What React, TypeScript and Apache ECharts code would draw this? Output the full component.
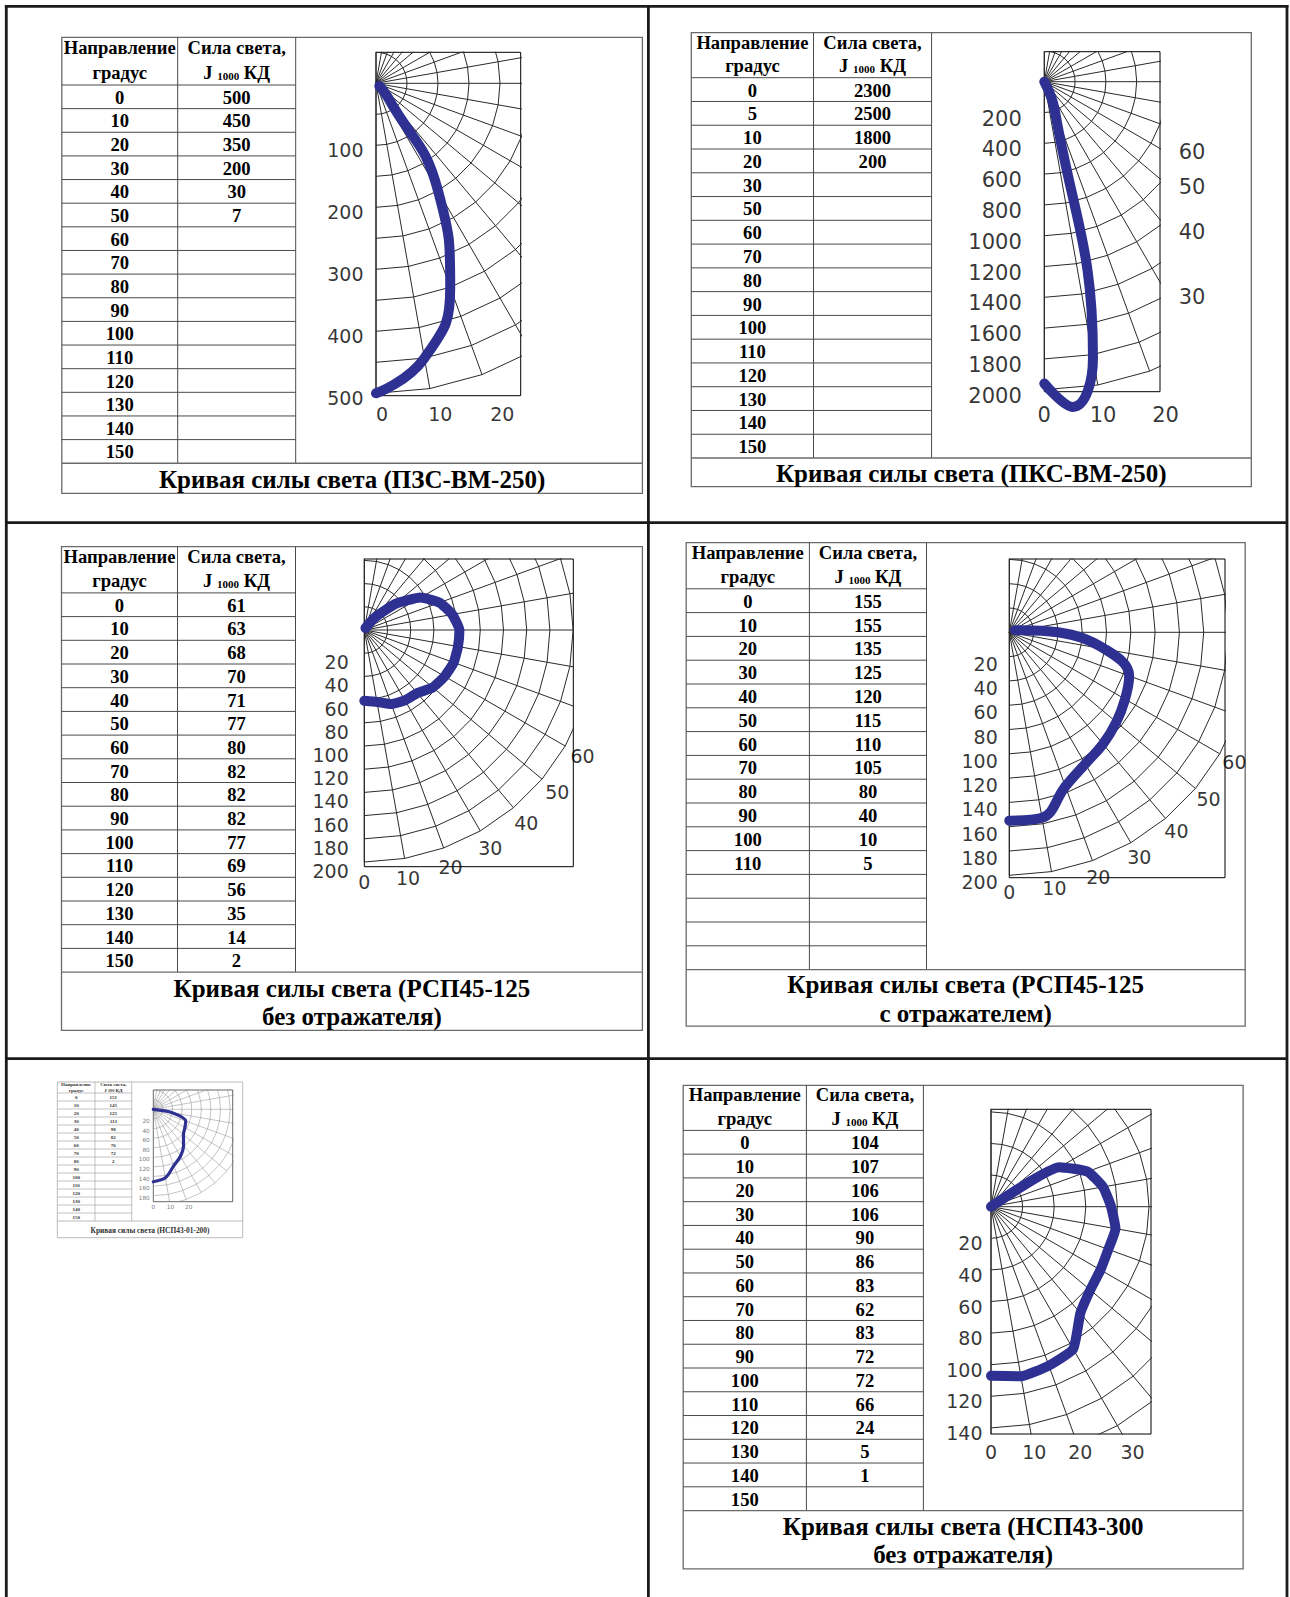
import React, { useEffect, useRef } from 'react';
import * as echarts from 'echarts';

// ================= DATA =================
const anglesStd = ['0', '10', '20', '30', '40', '50', '60', '70', '80', '90', '100', '110', '120', '130', '140', '150'];
const spokeAngles = [0, 10, 20, 30, 40, 50, 60, 70, 80, 90, 100, 110, 120, 130, 140, 150, 160, 170, 180];

// Panel 1 — ПЗС-ВМ-250
const p1Angles = anglesStd;
const p1Values = ['500', '450', '350', '200', '30', '7'];
const p1Curve = [[0, 500], [10, 450], [20, 350], [30, 200], [40, 30], [50, 7]];
const p1Rings = [50, 100, 150, 200, 250, 300, 350, 400, 450, 500];
const p1RadiusTicks = [100, 200, 300, 400, 500];
const p1AngleTicks = [0, 10, 20];
const p1Title = ['Кривая силы света (ПЗС-ВМ-250)'];

// Panel 2 — ПКС-ВМ-250
const p2Angles = ['0', '5', '10', '20', '30', '50', '60', '70', '80', '90', '100', '110', '120', '130', '140', '150'];
const p2Values = ['2300', '2500', '1800', '200'];
const p2Curve = [[0, 1960], [5, 2120], [10, 1820], [20, 200], [30, 0]];
const p2Rings = [200, 400, 600, 800, 1000, 1200, 1400, 1600, 1800, 2000];
const p2RadiusTicks = [200, 400, 600, 800, 1000, 1200, 1400, 1600, 1800, 2000];
const p2AngleTicks = [0, 10, 20, 30, 40, 50, 60];
const p2Title = ['Кривая силы света (ПКС-ВМ-250)'];

// Panel 3 — РСП45-125 без отражателя
const p3Angles = anglesStd;
const p3Values = ['61', '63', '68', '70', '71', '77', '80', '82', '82', '82', '77', '69', '56', '35', '14', '2'];
const p3Curve = [[0, 61], [10, 63], [20, 68], [30, 70], [40, 71], [50, 77], [60, 80], [70, 82], [80, 82], [90, 82], [100, 77], [110, 69], [120, 56], [130, 35], [140, 14], [150, 2]];
const p3Rings = [20, 40, 60, 80, 100, 120, 140, 160, 180, 200];
const p3RadiusTicks = [20, 40, 60, 80, 100, 120, 140, 160, 180, 200];
const p3AngleTicks = [0, 10, 20, 30, 40, 50, 60];
const p3Title = ['Кривая силы света (РСП45-125', 'без отражателя)'];

// Panel 4 — РСП45-125 с отражателем
const p4Angles = ['0', '10', '20', '30', '40', '50', '60', '70', '80', '90', '100', '110', '', '', '', ''];
const p4Values = ['155', '155', '135', '125', '120', '115', '110', '105', '80', '40', '10', '5'];
const p4Curve = [[0, 155], [10, 155], [20, 135], [30, 125], [40, 120], [50, 115], [60, 110], [70, 105], [80, 80], [90, 40], [100, 10], [110, 5]];
const p4Rings = [20, 40, 60, 80, 100, 120, 140, 160, 180, 200];
const p4RadiusTicks = [20, 40, 60, 80, 100, 120, 140, 160, 180, 200];
const p4AngleTicks = [0, 10, 20, 30, 40, 50, 60];
const p4Title = ['Кривая силы света (РСП45-125', 'с отражателем)'];

// Panel 5 — small thumbnail (НСП43-01-200)
const p5Angles = anglesStd;
const p5Values = ['151', '145', '125', '113', '98', '82', '76', '72', '2'];
const p5Curve = [[0, 151], [10, 145], [20, 125], [30, 113], [40, 98], [50, 82], [60, 76], [70, 72], [80, 40], [90, 0]];
const p5Rings = [20, 40, 60, 80, 100, 120, 140, 160, 180, 200];
const p5RadiusTicks = [20, 40, 60, 80, 100, 120, 140, 160, 180];
const p5AngleTicks = [0, 10, 20];
const p5Title = ['Кривая силы света (НСП43-01-200)'];

// Panel 6 — НСП43-300 без отражателя
const p6Angles = anglesStd;
const p6Values = ['104', '107', '106', '106', '90', '86', '83', '62', '83', '72', '72', '66', '24', '5', '1'];
const p6Curve = [[0, 107], [10, 109], [20, 107], [30, 104], [40, 88], [50, 82], [60, 80], [70, 79], [80, 80], [90, 76], [100, 72], [110, 65], [120, 50], [130, 0]];
const p6Rings = [20, 40, 60, 80, 100, 120, 140, 160, 180, 200];
const p6RadiusTicks = [20, 40, 60, 80, 100, 120, 140];
const p6AngleTicks = [0, 10, 20, 30];
const p6Title = ['Кривая силы света (НСП43-300', 'без отражателя)'];

// ================= STYLE / LAYOUT =================
const BLUE = '#2e3192';
const SERIF = '"Liberation Serif", "Times New Roman", serif';
const SANS = '"DejaVu Sans", Verdana, sans-serif';

const bigChart = { gridW: 1, gridColor: '#2a2a2a', borderW: 1, curveW: 10, tickColor: '#000', angleDx: 0, angleShiftR: 0, angleOff: 0, angleOffB: 0, angleOffR: 0 };

const L1 = { ...bigChart, rect: [376, 52.3, 144.7, 343.4], centerPx: 31, scale: 0.62, smooth: 0.5, tickFont: 19, tickGap: 12, tickDy: 5, angleMode: 'edge', angleOffB: 18, angleOffR: 40, angleDx: 6 };
const L2 = { ...bigChart, rect: [1044.3, 51.7, 115.7, 340], centerPx: 30, scale: 0.154, smooth: 0.45, tickFont: 21, tickGap: 22, tickDy: 6, angleMode: 'edge', angleOffB: 23, angleOffR: 32, angleShiftR: 4.5 };
const L3 = { ...bigChart, rect: [364.3, 559, 209, 307.7], centerPx: 71, scale: 1.16, smooth: 0.15, tickFont: 19, tickGap: 15, tickDy: 9, angleMode: 'ring', angleOff: 20 };
const L4 = { ...bigChart, rect: [1009.3, 559, 215.7, 318.7], centerPx: 73.3, scale: 1.215, smooth: 0.4, tickFont: 19, tickGap: 11, tickDy: 7, angleMode: 'ring', angleOff: 17 };
const L5 = { ...bigChart, rect: [153.3, 1090, 79.4, 111.7], centerPx: 19.3, scale: 0.48, gridW: 0.5, gridColor: '#8a8a8a', borderW: 0.6, curveW: 3.2, smooth: 0.3, tickFont: 5.8, tickGap: 3, tickDy: 2, tickColor: '#555', angleMode: 'edge', angleOffB: 5, angleOffR: 20 };
const L6 = { ...bigChart, rect: [991, 1109.3, 160, 324.7], centerPx: 97.4, scale: 1.58, smooth: 0.15, tickFont: 19, tickGap: 8, tickDy: 5, angleMode: 'edge', angleOffB: 18, angleOffR: 60 };

const bigTable = { font: 18.6, titleFont: 25, titleLH: 28.4, line: '#4a4a4a', lineW: 1, box: '#6a6a6a', boxW: 1.3, color: '#000', subFont: 11, subPad: 7 };
const T1 = { ...bigTable, x: [61.8, 177.7, 295.7, 642.4], top: 37.3, headH: 47.7, rowH: 23.64, titleH: 30.1 };
const T2 = { ...bigTable, x: [691.3, 813.5, 931.6, 1251.3], top: 32.6, headH: 45.1, rowH: 23.77, titleH: 28.6 };
const T3 = { ...bigTable, x: [61.5, 177.5, 295.5, 642.4], top: 546.7, headH: 46.2, rowH: 23.7, titleH: 58.2 };
const T4 = { ...bigTable, x: [686.2, 809.4, 926.5, 1245.2], top: 542.6, headH: 46.2, rowH: 23.8, titleH: 56.6 };
const T5 = { ...bigTable, x: [57.3, 95, 131.7, 242.7], top: 1082, headH: 11, rowH: 8, titleH: 16.7, font: 5, titleFont: 7.4, titleLH: 7, line: '#9a9a9a', lineW: 0.6, box: '#aaa', boxW: 0.8, color: '#333', subFont: 3.2, subPad: 2 };
const T6 = { ...bigTable, x: [683.2, 806.4, 923.4, 1243.1], top: 1085.3, headH: 45.1, rowH: 23.76, titleH: 58.4 };

const FRAME = { color: '#1b1b1b', w: 2.8, left: 6.3, top: 6.3, right: 1287, midX: 648.4, row1: 522.6, row2: 1058.6 };

// ================= BUILDERS =================
function gLine(x1: number, y1: number, x2: number, y2: number, stroke: string, lw: number) {
  return { type: 'line', silent: true, shape: { x1, y1, x2, y2 }, style: { stroke, lineWidth: lw } };
}

function gText(x: number, y: number, text: string, size: number, color: string, extra: any = {}) {
  return {
    type: 'text', silent: true, x, y,
    style: { legacy: false, text, fontSize: size, fontFamily: SERIF, fontWeight: 'bold', fill: color, align: 'center', verticalAlign: 'middle', ...extra },
  };
}

function tableGraphics(t: any, angles: string[], values: string[], title: string[]) {
  const els: any[] = [];
  const [x0, x1, x2, x3] = t.x;
  const rows = angles.length;
  const titleTop = t.top + t.headH + rows * t.rowH;
  const bottom = titleTop + t.titleH;
  els.push({ type: 'rect', silent: true, shape: { x: x0, y: t.top, width: x3 - x0, height: bottom - t.top }, style: { fill: 'none', stroke: t.box, lineWidth: t.boxW } });
  els.push(gLine(x1, t.top, x1, titleTop, t.line, t.lineW));
  els.push(gLine(x2, t.top, x2, titleTop, t.line, t.lineW));
  for (let i = 0; i < rows; i++) {
    const y = t.top + t.headH + i * t.rowH;
    els.push(gLine(x0, y, x2, y, t.line, t.lineW));
  }
  els.push(gLine(x0, titleTop, x3, titleTop, t.box, t.boxW));
  const c1 = (x0 + x1) / 2;
  const c2 = (x1 + x2) / 2;
  const hy1 = t.top + t.headH * 0.21;
  const hy2 = t.top + t.headH * 0.74;
  els.push(gText(c1, hy1, 'Направление', t.font, t.color));
  els.push(gText(c1, hy2, 'градус', t.font, t.color));
  els.push(gText(c2, hy1, 'Сила света,', t.font, t.color));
  const base = { fontSize: t.font, fontFamily: SERIF, fontWeight: 'bold', fill: t.color };
  els.push(gText(c2, hy2, '{a|J }{b|1000}{a| КД}', t.font, t.color, {
    rich: {
      a: base,
      b: { ...base, fontSize: t.subFont, padding: [t.subPad, 0, 0, 0] },
    },
  }));
  angles.forEach((a, i) => {
    const y = t.top + t.headH + (i + 0.5) * t.rowH + 0.5;
    if (a) els.push(gText(c1, y, a, t.font, t.color));
    if (values[i]) els.push(gText(c2, y, values[i], t.font, t.color));
  });
  const tc = (x0 + x3) / 2;
  const tyc = titleTop + t.titleH / 2 + 1;
  title.forEach((s, i) => {
    els.push(gText(tc, tyc + (i - (title.length - 1) / 2) * t.titleLH, s, t.titleFont, t.color));
  });
  return els;
}

function polarParts(idx: number, L: any, D: any, grids: any[], xAxes: any[], yAxes: any[], series: any[]) {
  const [left, top, width, height] = L.rect;
  const s = L.scale;
  const yMin = -L.centerPx / s;
  const yMax = (height - L.centerPx) / s;
  const xMax = width / s;
  grids.push({ left, top, width, height, show: true, borderColor: '#000', borderWidth: L.borderW, backgroundColor: 'rgba(0,0,0,0)', containLabel: false });
  xAxes.push({ gridIndex: idx, type: 'value', min: 0, max: xMax, show: false });
  yAxes.push({ gridIndex: idx, type: 'value', min: yMin, max: yMax, inverse: true, show: false });

  const rad = (a: number) => (a * Math.PI) / 180;
  const pt = (a: number, r: number) => [r * Math.sin(rad(a)), r * Math.cos(rad(a))];
  const GAP = ['-', '-'];
  const R = D.rings[D.rings.length - 1];

  const ringData: any[] = [];
  D.rings.forEach((r: number) => {
    spokeAngles.forEach((a) => ringData.push(pt(a, r)));
    ringData.push(GAP);
  });
  const spokeData: any[] = [];
  spokeAngles.forEach((a) => {
    spokeData.push([0, 0], pt(a, R), GAP);
  });
  const curveData = D.curve.map((p: number[]) => pt(p[0], p[1]));

  const anglePos = (a: number) => {
    const dx = L.angleDx / s;
    if (L.angleMode === 'ring') {
      const p = pt(a, R + L.angleOff / s);
      return [p[0] + dx, p[1]];
    }
    const yB = yMax + L.angleOffB / s;
    const xR = xMax + L.angleOffR / s;
    const xb = yB * Math.tan(rad(a));
    if (xb <= xR) return [xb + dx, yB];
    const a2 = rad(a + L.angleShiftR);
    return [xR + dx, xR / Math.tan(a2)];
  };

  const common = { xAxisIndex: idx, yAxisIndex: idx, silent: true, animation: false };
  series.push({ ...common, type: 'line', data: ringData, symbol: 'none', showSymbol: false, connectNulls: false, clip: true, lineStyle: { color: L.gridColor, width: L.gridW }, z: 2 });
  series.push({ ...common, type: 'line', data: spokeData, symbol: 'none', showSymbol: false, connectNulls: false, clip: true, lineStyle: { color: L.gridColor, width: L.gridW }, z: 2 });
  series.push({ ...common, type: 'line', data: curveData, symbol: 'none', showSymbol: false, smooth: L.smooth, clip: false, lineStyle: { color: BLUE, width: L.curveW, cap: 'round', join: 'round' }, z: 4 });
  series.push({
    ...common, type: 'scatter', symbol: 'circle', symbolSize: 1, itemStyle: { color: 'rgba(0,0,0,0)' }, clip: false, z: 5,
    data: D.radiusTicks.map((v: number) => ({ value: [0, v], name: String(v) })),
    label: { show: true, position: 'left', distance: L.tickGap, offset: [0, L.tickDy], formatter: '{b}', color: L.tickColor, fontSize: L.tickFont, fontFamily: SANS },
  });
  series.push({
    ...common, type: 'scatter', symbol: 'circle', symbolSize: 1, itemStyle: { color: 'rgba(0,0,0,0)' }, clip: false, z: 5,
    data: D.angleTicks.map((a: number) => ({ value: anglePos(a), name: String(a) })),
    label: { show: true, position: 'inside', align: 'center', verticalAlign: 'middle', formatter: '{b}', color: L.tickColor, fontSize: L.tickFont, fontFamily: SANS },
  });
}

function buildOption() {
  const grids: any[] = [];
  const xAxes: any[] = [];
  const yAxes: any[] = [];
  const series: any[] = [];
  const panels = [
    { L: L1, D: { rings: p1Rings, curve: p1Curve, radiusTicks: p1RadiusTicks, angleTicks: p1AngleTicks } },
    { L: L2, D: { rings: p2Rings, curve: p2Curve, radiusTicks: p2RadiusTicks, angleTicks: p2AngleTicks } },
    { L: L3, D: { rings: p3Rings, curve: p3Curve, radiusTicks: p3RadiusTicks, angleTicks: p3AngleTicks } },
    { L: L4, D: { rings: p4Rings, curve: p4Curve, radiusTicks: p4RadiusTicks, angleTicks: p4AngleTicks } },
    { L: L5, D: { rings: p5Rings, curve: p5Curve, radiusTicks: p5RadiusTicks, angleTicks: p5AngleTicks } },
    { L: L6, D: { rings: p6Rings, curve: p6Curve, radiusTicks: p6RadiusTicks, angleTicks: p6AngleTicks } },
  ];
  panels.forEach((p, i) => polarParts(i, p.L, p.D, grids, xAxes, yAxes, series));

  const F = FRAME;
  const elements: any[] = [
    gLine(F.left, F.top - 1.4, F.left, 1597, F.color, F.w),
    gLine(F.left - 1.4, F.top, F.right + 1.4, F.top, F.color, F.w),
    gLine(F.right, F.top - 1.4, F.right, 1597, F.color, F.w),
    gLine(F.midX, F.top, F.midX, 1597, F.color, F.w),
    gLine(F.left, F.row1, F.right, F.row1, F.color, F.w),
    gLine(F.left, F.row2, F.right, F.row2, F.color, F.w),
    ...tableGraphics(T1, p1Angles, p1Values, p1Title),
    ...tableGraphics(T2, p2Angles, p2Values, p2Title),
    ...tableGraphics(T3, p3Angles, p3Values, p3Title),
    ...tableGraphics(T4, p4Angles, p4Values, p4Title),
    ...tableGraphics(T5, p5Angles, p5Values, p5Title),
    ...tableGraphics(T6, p6Angles, p6Values, p6Title),
  ];

  return {
    animation: false,
    backgroundColor: '#ffffff',
    grid: grids,
    xAxis: xAxes,
    yAxis: yAxes,
    series,
    graphic: { elements },
  };
}

export default function App() {
  const ref = useRef<HTMLDivElement>(null);
  useEffect(() => {
    if (!ref.current) return;
    const chart = echarts.init(ref.current, null, { renderer: 'svg' });
    chart.setOption(buildOption() as any);
    return () => chart.dispose();
  }, []);
  return (
    <div
      ref={ref}
      style={{ position: 'absolute', left: 0, top: 0, width: 1290, height: 1597, background: '#fff' }}
    />
  );
}
